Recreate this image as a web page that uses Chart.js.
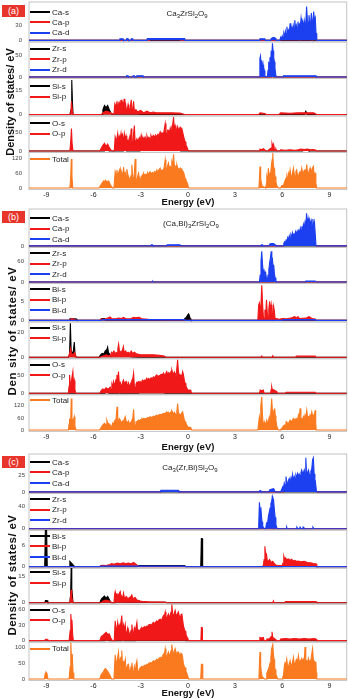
<!DOCTYPE html>
<html lang="en">
<head>
<meta charset="UTF-8">
<title>Partial density of states</title>
<script src="https://cdn.jsdelivr.net/npm/chart.js"></script>
<style>
  body { margin: 0; background: #fff; width: 348px; height: 699px; position: relative; overflow: hidden;
         font-family: "Liberation Sans", Arial, sans-serif; }
  canvas { position: absolute; left: 0; }
  .tag { position: absolute; left: 2px; width: 23px; height: 12px; background: #e8352b; color: #fff;
         font-size: 9px; line-height: 12px; text-align: center; }
  .formula { position: absolute; font-size: 8px; color: #222; transform: translate(-50%, -50%); white-space: nowrap; }
  .formula sub { font-size: 6px; vertical-align: -2px; line-height: 0; }
  .ylab { position: absolute; font-weight: bold; white-space: nowrap; color: #111;
          transform: translate(-50%, -50%) rotate(-90deg); }
  .xlab { position: absolute; left: 188px; font-weight: bold; font-size: 9.5px; color: #111;
          transform: translate(-50%, -50%); white-space: nowrap; }
  .leg { position: absolute; left: 30px; font-size: 8px; color: #222; line-height: 10px; white-space: nowrap; }
  .leg i { display: inline-block; width: 20px; height: 2px; vertical-align: middle; margin-right: 2px; margin-top: -1px; }
</style>
</head>
<body>
<script>
// ---------- data: [energy (eV), DOS] ----------
const xTicks = [-9, -6, -3, 0, 3, 6, 9];

// (a) Ca3ZrSi2O9
const aCaS = [[7.1,0],[7.15,2],[7.2,0],[7.85,0],[7.9,2.5],[7.95,0]];
const aCaP = [[-2.45,0],[-2.4,1.5],[-0.5,1.5],[-0.45,0],[5.85,0],[5.9,1.5],[8.15,1.5],[8.2,0]];
const aCaD = [[-4.35,0],[-4.32,3],[-4.12,3],[-4.1,0],[-3.92,0],[-3.9,3],[-3.8,3],[-3.78,0],[-3.62,0],[-3.6,3],[-3.5,3],[-3.48,0],
  [-2.6,0],[-2.58,3.5],[-0.2,3.5],[-0.18,0],[4.55,0],[4.58,3],[4.9,3],[4.92,0],[5.28,0],[5.3,4],[5.45,6],[5.6,4],[5.62,0],
  [5.85,0],[5.9,6],[5.95,3],[6.0,9],[6.05,5],[6.1,14],[6.15,8],[6.2,18],[6.25,10],[6.3,27],[6.35,12],[6.4,20],[6.45,15],
  [6.5,34],[6.55,18],[6.6,25],[6.65,20],[6.7,30],[6.75,22],[6.8,40],[6.85,24],[6.9,30],[6.95,22],[7.0,37],[7.05,25],
  [7.1,32],[7.15,28],[7.2,44],[7.25,30],[7.3,36],[7.35,27],[7.4,40],[7.45,30],[7.5,35],[7.55,67],[7.6,40],[7.65,32],
  [7.7,50],[7.75,35],[7.8,30],[7.85,54],[7.9,38],[7.95,33],[8.0,57],[8.05,40],[8.1,45],[8.15,14],[8.2,0]];
const aZrS = [[5.35,0],[5.4,1],[5.45,0]];
const aZrP = [[4.6,0],[4.65,2],[4.7,0],[5.35,0],[5.4,3],[5.45,0]];
const aZrD = [[-3.92,0],[-3.9,3],[-3.8,3],[-3.78,0],[-3.5,0],[-3.48,3],[-3.4,3],[-3.38,0],[-3.28,0],[-3.25,3],[-2.85,3],[-2.83,0],
  [4.55,0],[4.58,42],[4.62,48],[4.66,25],[4.7,38],[4.74,18],[4.78,28],[4.82,10],[4.86,15],[4.9,3],[4.95,0],[5.05,0],
  [5.1,15],[5.14,35],[5.18,20],[5.22,45],[5.26,30],[5.3,60],[5.34,50],[5.38,77],[5.42,60],[5.46,45],[5.5,35],[5.54,20],
  [5.58,8],[5.62,0],[6.05,0],[6.08,3],[8.15,3],[8.18,0]];
const aSiS = [[-7.5,0],[-7.42,3],[-7.38,21],[-7.34,8],[-7.3,0],[-5.45,0],[-5.4,3],[-5.3,5.5],[-5.2,4],[-5.1,5.5],[-5.0,3],
  [-4.9,1],[-4.8,0],[-4.5,0.5],[-4.0,0.3],[-3.5,0.5],[-3.0,0],[7.4,0],[7.5,2],[7.6,0]];
const aSiP = [[-7.6,0],[-7.45,0],[-7.4,8],[-7.35,3],[-7.3,0],[-5.5,0],[-5.4,1],[-5.2,2],[-5.0,1.5],[-4.8,0.5],[-4.7,0],
  [-4.65,6],[-4.6,4],[-4.55,7],[-4.5,5],[-4.45,8],[-4.4,4],[-4.35,7],[-4.3,5],[-4.25,9],[-4.2,3],[-4.15,7],[-4.1,5],
  [-4.05,9.5],[-4.0,4],[-3.95,6],[-3.9,2],[-3.85,3],[-3.8,6],[-3.75,3],[-3.7,2],[-3.65,5],[-3.6,9],[-3.55,3],[-3.5,2],
  [-3.45,8],[-3.4,2],[-3.3,3],[-3.2,1.5],[-3.0,2.5],[-2.8,1],[-2.6,2],[-2.4,1],[-2.2,1.5],[-2.0,1],[-1.5,1],[-1.0,1],
  [-0.5,0.8],[-0.2,0],[4.5,0],[4.6,1],[4.9,0.5],[5.0,0],[5.8,0],[5.9,1],[6.5,0.7],[7.0,1],[7.5,1],[8.0,1],[8.2,0]];
const aOS = [[-5.3,0],[-5.25,3],[-5.15,4],[-5.05,2],[-5.0,0],[-4.1,0],[-4.05,3],[-3.95,4],[-3.9,0],[-3.1,0],[-3.05,2],
  [-0.5,2],[-0.45,0],[7.3,0],[7.35,3],[7.65,3],[7.7,0]];
const aOP = [[-7.5,0],[-7.44,30],[-7.4,59],[-7.36,20],[-7.3,0],[-5.6,0],[-5.5,8],[-5.4,15],[-5.3,20],[-5.2,12],[-5.1,18],
  [-5.0,10],[-4.9,3],[-4.8,0],[-4.68,0],[-4.62,37],[-4.56,28],[-4.51,33],[-4.46,46],[-4.41,22],[-4.36,39],[-4.3,32],
  [-4.25,46],[-4.2,24],[-4.15,40],[-4.09,24],[-4.04,46],[-3.98,30],[-3.93,40],[-3.88,24],[-3.82,28],[-3.77,20],[-3.72,35],
  [-3.67,20],[-3.6,59],[-3.56,25],[-3.5,20],[-3.45,45],[-3.4,67],[-3.35,20],[-3.3,25],[-3.24,32],[-3.19,24],[-3.14,30],
  [-3.08,35],[-3.03,24],[-2.97,41],[-2.92,28],[-2.85,35],[-2.8,28],[-2.72,37],[-2.66,30],[-2.6,40],[-2.55,32],[-2.48,36],
  [-2.4,32],[-2.35,41],[-2.28,34],[-2.2,41],[-2.12,36],[-2.05,42],[-1.97,37],[-1.9,44],[-1.84,40],[-1.76,50],[-1.7,42],
  [-1.65,48],[-1.58,46],[-1.55,44],[-1.5,56],[-1.44,72],[-1.39,48],[-1.34,41],[-1.28,55],[-1.23,54],[-1.18,46],[-1.12,60],
  [-1.07,52],[-1.02,63],[-0.96,70],[-0.91,89],[-0.86,58],[-0.81,66],[-0.76,50],[-0.7,56],[-0.65,64],[-0.6,54],[-0.55,58],
  [-0.49,62],[-0.44,54],[-0.38,58],[-0.33,50],[-0.28,40],[-0.22,30],[-0.17,24],[-0.12,16],[-0.07,11],[0.0,4],[0.05,0],
  [4.55,0],[4.58,5],[4.7,4],[4.8,6],[4.9,3],[4.95,0],[5.1,0],[5.15,4],[5.3,8],[5.35,20],[5.4,12],[5.45,18],[5.5,6],
  [5.55,3],[5.6,5],[5.65,0],[5.85,0],[5.9,3],[6.2,2],[6.5,3],[6.8,2],[7.0,3],[7.2,5],[7.4,4],[7.6,5],[7.8,3],[8.0,4],
  [8.15,2],[8.2,0]];
const aTotal = [[-7.5,0],[-7.45,40],[-7.41,116],[-7.37,50],[-7.32,0],[-5.65,0],[-5.55,10],[-5.45,20],[-5.36,28],[-5.3,22],
  [-5.25,31],[-5.15,25],[-5.04,28],[-4.94,15],[-4.85,5],[-4.78,0],[-4.7,0],[-4.62,65],[-4.56,50],[-4.51,72],[-4.46,45],
  [-4.41,60],[-4.3,79],[-4.25,55],[-4.2,60],[-4.14,45],[-4.09,83],[-4.03,50],[-3.98,60],[-3.93,40],[-3.88,75],[-3.82,55],
  [-3.77,45],[-3.72,38],[-3.67,31],[-3.61,50],[-3.56,93],[-3.5,40],[-3.45,25],[-3.4,60],[-3.35,116],[-3.3,40],[-3.24,25],
  [-3.19,45],[-3.14,59],[-3.08,40],[-3.03,25],[-2.97,45],[-2.92,45],[-2.85,55],[-2.82,59],[-2.75,50],[-2.7,55],[-2.61,52],
  [-2.55,62],[-2.5,55],[-2.4,65],[-2.33,56],[-2.25,62],[-2.18,59],[-2.1,66],[-2.03,60],[-1.97,72],[-1.9,64],[-1.83,74],
  [-1.76,79],[-1.7,68],[-1.62,72],[-1.55,70],[-1.5,85],[-1.44,113],[-1.39,80],[-1.34,72],[-1.28,90],[-1.23,100],[-1.18,80],
  [-1.12,86],[-1.07,80],[-1.02,106],[-0.96,95],[-0.91,134],[-0.86,90],[-0.81,75],[-0.75,90],[-0.7,93],[-0.65,80],[-0.6,79],
  [-0.55,72],[-0.49,79],[-0.44,70],[-0.38,75],[-0.33,65],[-0.28,65],[-0.22,50],[-0.17,38],[-0.12,30],[-0.07,25],[0.0,12],
  [0.04,0],[4.52,0],[4.56,50],[4.59,86],[4.63,40],[4.67,20],[4.72,8],[4.8,5],[4.9,2],[4.95,0],[5.0,20],[5.02,45],[5.07,30],
  [5.12,79],[5.17,45],[5.23,60],[5.28,70],[5.33,100],[5.37,115],[5.4,140],[5.44,90],[5.48,79],[5.52,60],[5.55,45],[5.6,25],
  [5.65,10],[5.72,3],[5.76,0],[5.9,0],[5.97,10],[6.08,10],[6.15,25],[6.25,40],[6.29,45],[6.34,30],[6.39,59],[6.45,45],
  [6.5,72],[6.56,50],[6.61,40],[6.66,60],[6.71,79],[6.77,55],[6.82,45],[6.87,65],[6.92,72],[6.97,50],[7.03,45],[7.08,60],
  [7.14,65],[7.19,55],[7.24,79],[7.3,60],[7.35,59],[7.4,70],[7.45,72],[7.5,55],[7.56,93],[7.61,60],[7.67,59],[7.72,70],
  [7.77,79],[7.82,55],[7.88,65],[7.93,80],[7.98,86],[8.03,55],[8.09,59],[8.14,20],[8.19,0]];
const aYMax = [76, 80, 22, 92, 142];
const aYTicks = [[0, 30, 60], [0, 50], [0, 15], [0, 50], [0, 60, 120]];

// (b) (Ca,Bi)3ZrSi2O9
const bCaS = [[7.0,0],[7.05,1],[7.1,0]];
const bCaP = [[6.05,0],[6.1,1],[8.1,1],[8.15,0]];
const bCaD = [[-2.35,0],[-2.32,2],[-2.26,2],[-2.23,0],[-1.35,0],[-1.32,2],[-0.5,2],[-0.47,0],[4.66,0],[4.68,2],[4.74,2],
  [4.76,0],[5.15,0],[5.2,3],[5.3,4],[5.45,4],[5.55,2],[5.6,0],[6.05,0],[6.1,4],[6.15,7],[6.2,5],[6.25,10],[6.3,8],[6.35,14],
  [6.4,10],[6.45,17],[6.5,13],[6.55,19],[6.6,15],[6.65,22],[6.7,16],[6.75,20],[6.8,18],[6.85,24],[6.9,19],[6.95,25],
  [7.0,21],[7.05,26],[7.1,22],[7.15,30],[7.2,24],[7.25,33],[7.3,26],[7.35,36],[7.4,30],[7.45,40],[7.5,33],[7.55,55],
  [7.6,38],[7.65,46],[7.7,35],[7.75,44],[7.8,36],[7.85,42],[7.9,30],[7.95,45],[8.0,33],[8.05,40],[8.1,20],[8.15,0]];
const bZrS = [[5.3,0],[5.33,0.8],[5.36,0]];
const bZrP = [[5.45,0],[5.5,3],[5.55,0]];
const bZrD = [[-2.26,0],[-2.23,2],[-2.2,0],[4.55,0],[4.6,20],[4.65,60],[4.7,89],[4.74,55],[4.78,36],[4.82,20],[4.86,30],
  [4.9,17],[4.95,26],[5.0,10],[5.05,3],[5.1,20],[5.15,36],[5.2,55],[5.25,70],[5.3,89],[5.34,60],[5.38,65],[5.42,45],
  [5.46,50],[5.5,25],[5.55,12],[5.6,3],[5.65,0],[7.45,0],[7.5,3],[8.1,3],[8.15,0]];
const bBiS = [[-7.55,0],[-7.5,0.4],[-7.1,0.4],[-7.05,0],[-5.55,0],[-5.5,0.5],[-5.3,0.5],[-5.25,0],[-0.25,0],[-0.2,0.5],
  [-0.1,0.8],[0.0,1.5],[0.05,1.75],[0.1,1.2],[0.15,0.5],[0.2,0]];
const bBiP = [[-7.5,0],[-7.4,0.5],[-7.2,0.3],[-7.1,0],[-5.6,0],[-5.5,0.4],[-5.3,0.3],[-5.1,0.6],[-4.95,0.9],[-4.85,0.5],
  [-4.6,0.4],[-4.4,0.6],[-4.2,0.5],[-4.1,0.8],[-3.9,0.4],[-3.6,0.5],[-3.45,0.8],[-3.3,0.7],[-3.1,0.8],[-2.9,0.4],[-2.5,0.3],
  [-1.5,0.2],[-0.3,0.2],[-0.1,0],[4.45,0],[4.5,4],[4.55,4.6],[4.6,3],[4.65,4.2],[4.7,9.2],[4.75,4.5],[4.8,1],[4.85,0.3],
  [4.9,2.8],[4.95,1.5],[5.0,5.4],[5.05,2],[5.1,0.5],[5.15,3],[5.2,5],[5.25,2.5],[5.3,4.1],[5.35,1.5],[5.4,0.5],[5.45,3.7],
  [5.5,2.5],[5.55,0.3],[5.6,0.5],[5.8,0.3],[6.0,0.5],[6.3,0.4],[6.6,0.7],[6.8,1],[6.9,0.6],[7.0,1],[7.1,0.5],[7.5,0.6],
  [7.7,1],[7.9,0.5],[8.1,0.4],[8.15,0]];
const bBiD = [[-5.5,0],[-5.45,0.25],[-0.2,0.25],[-0.15,0],[6.0,0],[6.05,0.2],[8.1,0.2],[8.15,0]];
const bSiS = [[-7.6,0],[-7.52,2],[-7.47,27],[-7.42,5],[-7.35,3],[-7.28,5],[-7.22,12],[-7.17,2],[-7.1,0],[-5.65,0],[-5.55,2],
  [-5.45,3],[-5.35,2.5],[-5.25,5],[-5.15,6],[-5.1,8],[-5.05,4],[-4.95,2],[-4.9,0.5],[-4.4,1],[-4.0,1],[-3.6,0.5],[-3.2,0]];
const bSiP = [[-7.6,0],[-7.5,4],[-7.45,7],[-7.4,3],[-7.3,2],[-7.2,4],[-7.1,0],[-5.6,0],[-5.4,1],[-5.2,2],[-5.0,1],[-4.9,2],
  [-4.85,4],[-4.8,3],[-4.7,5],[-4.6,3],[-4.5,4],[-4.45,7],[-4.4,10.5],[-4.35,5],[-4.25,4],[-4.15,6],[-4.1,8.5],[-4.05,4],
  [-3.95,5],[-3.9,3],[-3.8,4],[-3.7,3],[-3.6,5],[-3.5,3],[-3.4,4],[-3.3,3],[-3.2,2.5],[-3.0,2],[-2.6,2],[-2.2,2],[-1.8,1.5],
  [-1.5,1],[-1.4,0],[4.65,0],[4.7,1],[4.75,0],[5.35,0],[5.4,1.2],[5.45,0],[6.85,0],[6.9,1],[8.1,1],[8.15,0]];
const bOS = [[-5.3,0],[-5.25,2],[-5.1,3],[-5.0,0],[-4.5,0],[-4.45,1],[-4.3,1],[-4.25,0],[-3.15,0],[-3.1,1.5],[-1.5,1.5],[-1.45,0]];
const bOP = [[-7.6,0],[-7.55,20],[-7.52,50],[-7.48,30],[-7.44,18],[-7.38,40],[-7.31,59],[-7.27,25],[-7.22,35],[-7.18,10],
  [-7.12,0],[-5.6,0],[-5.5,8],[-5.4,12],[-5.3,10],[-5.2,15],[-5.1,12],[-5.0,14],[-4.94,17],[-4.88,10],[-4.83,25],[-4.78,18],
  [-4.73,32],[-4.67,22],[-4.62,28],[-4.56,38],[-4.51,50],[-4.46,30],[-4.41,59],[-4.36,28],[-4.3,30],[-4.25,22],[-4.2,20],
  [-4.15,30],[-4.09,36],[-4.04,25],[-3.98,30],[-3.93,32],[-3.88,25],[-3.82,20],[-3.77,28],[-3.72,20],[-3.67,20],[-3.61,30],
  [-3.56,36],[-3.5,40],[-3.45,55],[-3.4,20],[-3.35,15],[-3.3,25],[-3.24,30],[-3.19,28],[-3.14,32],[-3.08,30],[-3.03,32],
  [-2.97,28],[-2.92,34],[-2.87,36],[-2.82,32],[-2.75,36],[-2.7,34],[-2.61,41],[-2.55,36],[-2.5,40],[-2.45,38],[-2.4,40],
  [-2.33,42],[-2.25,40],[-2.18,45],[-2.1,42],[-2.03,48],[-1.97,50],[-1.9,44],[-1.83,48],[-1.76,48],[-1.7,52],[-1.62,50],
  [-1.55,55],[-1.5,50],[-1.44,52],[-1.39,56],[-1.34,59],[-1.28,50],[-1.23,56],[-1.18,55],[-1.12,52],[-1.07,60],[-1.02,64],
  [-0.96,55],[-0.91,50],[-0.86,58],[-0.81,54],[-0.75,45],[-0.7,45],[-0.65,91],[-0.6,60],[-0.55,50],[-0.49,50],[-0.44,45],
  [-0.38,50],[-0.33,59],[-0.28,50],[-0.22,35],[-0.17,27],[-0.12,20],[-0.07,14],[0.0,10],[0.04,9],[0.1,8],[0.15,9],[0.2,4],
  [0.25,0],[4.55,0],[4.6,9],[4.7,7],[4.8,9],[4.85,0],[5.25,0],[5.3,10],[5.33,18],[5.38,8],[5.45,10],[5.55,7],[5.65,5],
  [5.7,0],[6.2,0],[6.25,3],[8.1,3],[8.15,0]];
const bTotal = [[-7.6,0],[-7.55,30],[-7.52,57],[-7.48,40],[-7.44,80],[-7.41,156],[-7.37,60],[-7.31,40],[-7.22,66],[-7.18,20],
  [-7.12,0],[-5.6,0],[-5.5,15],[-5.4,25],[-5.3,33],[-5.2,25],[-5.15,49],[-5.1,35],[-5.0,30],[-4.94,25],[-4.88,15],[-4.83,20],
  [-4.78,33],[-4.73,25],[-4.67,45],[-4.62,40],[-4.56,60],[-4.5,115],[-4.46,50],[-4.41,40],[-4.36,57],[-4.3,50],[-4.25,40],
  [-4.2,35],[-4.15,45],[-4.09,40],[-4.04,55],[-3.98,66],[-3.93,45],[-3.88,40],[-3.82,35],[-3.77,45],[-3.72,30],[-3.67,33],
  [-3.61,40],[-3.56,49],[-3.5,60],[-3.45,102],[-3.4,25],[-3.35,25],[-3.3,40],[-3.24,40],[-3.19,45],[-3.14,49],[-3.08,45],
  [-3.03,49],[-2.97,52],[-2.92,57],[-2.85,50],[-2.82,57],[-2.75,55],[-2.7,57],[-2.61,57],[-2.55,62],[-2.5,60],[-2.4,66],
  [-2.33,62],[-2.25,65],[-2.18,69],[-2.1,66],[-2.03,72],[-1.97,74],[-1.9,70],[-1.83,76],[-1.76,78],[-1.7,74],[-1.62,80],
  [-1.55,82],[-1.5,78],[-1.44,85],[-1.39,80],[-1.34,90],[-1.28,80],[-1.23,88],[-1.18,82],[-1.12,86],[-1.07,90],[-1.02,95],
  [-0.96,85],[-0.91,80],[-0.86,88],[-0.81,82],[-0.75,75],[-0.7,90],[-0.65,131],[-0.6,85],[-0.55,80],[-0.49,74],[-0.44,78],
  [-0.38,85],[-0.33,90],[-0.28,70],[-0.22,50],[-0.17,41],[-0.12,30],[-0.07,25],[0.0,15],[0.04,13],[0.1,12],[0.15,14],
  [0.2,8],[0.25,0],[4.45,0],[4.5,30],[4.55,66],[4.6,40],[4.64,120],[4.7,164],[4.74,80],[4.78,33],[4.82,25],[4.86,40],
  [4.91,25],[4.96,35],[5.02,49],[5.07,30],[5.12,40],[5.18,66],[5.23,50],[5.27,80],[5.33,156],[5.38,90],[5.44,82],[5.48,100],
  [5.52,107],[5.56,70],[5.6,49],[5.65,20],[5.7,8],[5.76,0],[5.86,0],[5.92,5],[5.97,8],[6.03,15],[6.08,20],[6.13,25],
  [6.18,25],[6.24,40],[6.29,41],[6.34,30],[6.39,33],[6.45,40],[6.5,49],[6.56,45],[6.61,40],[6.66,50],[6.71,57],[6.77,45],
  [6.82,55],[6.87,50],[6.92,57],[6.97,45],[7.03,74],[7.08,60],[7.14,107],[7.19,55],[7.24,57],[7.3,50],[7.35,66],[7.4,55],
  [7.45,74],[7.5,60],[7.56,98],[7.61,65],[7.67,66],[7.72,60],[7.77,74],[7.82,65],[7.88,90],[7.93,70],[7.98,74],[8.03,60],
  [8.09,98],[8.13,40],[8.16,0]];
const bYMax = [62, 100, 9.7, 28, 94, 175];
const bYTicks = [[0, 50], [0, 60], [0, 5], [0, 20], [0, 50], [0, 60, 120]];

// (c) Ca3(Zr,Bi)Si2O9
const cCaS = [[7.3,0],[7.35,1],[7.4,0]];
const cCaP = [[-1.75,0],[-1.72,1],[-0.6,1],[-0.57,0],[6.1,0],[6.15,1],[8.15,1],[8.2,0]];
const cCaD = [[-1.75,0],[-1.72,2.5],[-0.6,2.5],[-0.57,0],[4.55,0],[4.58,2],[4.62,2],[4.65,0],[5.15,0],[5.2,3],[5.3,4],
  [5.45,5],[5.5,3],[5.55,0],[5.9,0],[5.97,4],[6.03,8],[6.08,6],[6.13,14],[6.18,10],[6.24,24],[6.29,14],[6.34,12],[6.39,18],
  [6.45,21],[6.5,14],[6.56,22],[6.61,16],[6.66,27],[6.71,18],[6.77,24],[6.82,20],[6.87,26],[6.92,22],[6.97,29],[7.03,25],
  [7.08,28],[7.14,24],[7.19,30],[7.24,34],[7.3,28],[7.35,30],[7.4,34],[7.45,26],[7.5,53],[7.55,28],[7.6,30],[7.67,34],
  [7.72,28],[7.77,26],[7.82,32],[7.88,36],[7.93,50],[7.98,53],[8.03,28],[8.08,20],[8.12,14],[8.18,0]];
const cZrS = [[5.35,0],[5.38,0.8],[5.41,0]];
const cZrP = [[5.35,0],[5.4,1.5],[5.45,0]];
const cZrD = [[4.5,0],[4.55,47],[4.6,30],[4.64,38],[4.68,22],[4.72,12],[4.76,6],[4.8,2],[4.88,0],[4.95,0],[5.0,10],[5.06,8],
  [5.12,22],[5.18,30],[5.23,37],[5.28,45],[5.33,49],[5.37,58],[5.4,55],[5.45,52],[5.5,34],[5.55,20],[5.6,7],[5.65,2],[5.72,0],
  [6.25,0],[6.28,3],[6.32,0],[6.9,0],[6.93,3],[7.0,0],[7.1,0],[7.14,3],[7.2,0],[7.3,0],[7.33,3],[7.38,0],[7.9,0],[7.95,3],[8.02,0]];
const cBiS = [[-9.1,0],[-9.06,10.4],[-8.98,10.4],[-8.94,0],[-7.55,0],[-7.5,1.5],[-7.4,1],[-7.3,0.5],[-7.25,0],[-3.2,0],
  [-3.15,0.3],[-0.2,0.3],[-0.15,0],[0.82,0],[0.86,8],[0.9,8],[0.94,0],[6.0,0],[6.05,0.4],[8.1,0.4],[8.15,0]];
const cBiP = [[-5.6,0],[-5.55,0.3],[-5.4,0.4],[-5.2,0.3],[-4.95,0.6],[-4.85,0.9],[-4.7,0.7],[-4.5,1],[-4.3,0.8],[-4.1,1.1],
  [-3.95,0.8],[-3.8,1],[-3.6,0.8],[-3.45,1.2],[-3.3,0.7],[-3.2,0.3],[-3.1,0],[4.75,0],[4.8,0.5],[4.85,2],[4.9,5.8],[4.95,3],
  [5.0,3.5],[5.05,1.8],[5.12,1.5],[5.2,2],[5.3,1.2],[5.4,1.5],[5.5,0.8],[5.6,0.5],[5.7,0.3],[6.0,0.3],[6.05,1],[6.1,3],
  [6.15,2.2],[6.2,2.5],[6.3,2],[6.4,2.2],[6.5,1.8],[6.6,2.1],[6.7,1.6],[6.8,1.8],[6.9,1.5],[7.0,1.6],[7.2,1.4],[7.4,1.5],
  [7.6,1.2],[7.8,1.1],[8.0,0.9],[8.15,0.8],[8.2,0]];
const cBiD = [[-5.6,0],[-5.55,0.2],[-0.2,0.2],[-0.15,0]];
const cSiS = [[-9.1,0],[-9.05,1.2],[-8.95,1.2],[-8.9,0],[-7.5,0],[-7.45,5],[-7.42,19.5],[-7.38,8],[-7.3,0],[-5.6,0],[-5.5,2],
  [-5.4,3],[-5.3,3.8],[-5.2,2.5],[-5.1,3.5],[-5.0,2],[-4.9,0],[-4.6,0],[-4.55,1],[-4.3,1],[-4.0,0.6],[-3.5,0.3],[-1.4,0.3],[-1.35,0]];
const cSiP = [[-7.5,0],[-7.45,4],[-7.42,7.3],[-7.38,3],[-7.3,0],[-5.5,0],[-5.4,1],[-5.2,1.5],[-5.0,1],[-4.8,0],[-4.7,0],
  [-4.65,5],[-4.62,6.3],[-4.56,4],[-4.51,5.4],[-4.46,3],[-4.41,4.5],[-4.3,6.3],[-4.25,3],[-4.2,3.5],[-4.15,2.5],[-4.09,5.4],
  [-4.04,3],[-3.98,2.5],[-3.93,3.5],[-3.88,3],[-3.82,2.5],[-3.77,2.5],[-3.7,3],[-3.62,3.5],[-3.56,4.4],[-3.5,2.5],[-3.45,2.5],
  [-3.35,3],[-3.24,1.5],[-3.1,1.2],[-3.03,1],[-2.9,0.8],[-2.5,0.5],[-1.5,0.4],[-1.3,0],[5.4,0],[5.44,1],[5.48,0],[6.15,0],
  [6.2,0.7],[8.15,0.7],[8.2,0]];
const cOS = [[-5.3,0],[-5.25,1.5],[-5.1,2],[-5.0,0],[-4.25,0],[-4.2,3],[-4.1,2],[-4.05,0],[-3.3,0],[-3.25,1],[-0.2,1],[-0.15,0]];
const cOP = [[-9.1,0],[-9.05,2.7],[-8.95,2.7],[-8.9,0],[-7.55,0],[-7.48,20],[-7.44,51],[-7.4,30],[-7.37,40],[-7.32,10],
  [-7.28,0],[-5.6,0],[-5.5,8],[-5.4,10],[-5.3,13],[-5.2,16],[-5.1,12],[-5.0,13],[-4.9,5],[-4.8,0],[-4.68,0],[-4.62,38],
  [-4.56,15],[-4.51,25],[-4.46,35],[-4.41,20],[-4.36,30],[-4.3,25],[-4.2,48],[-4.15,18],[-4.09,30],[-4.04,20],[-3.98,31],
  [-3.93,12],[-3.88,15],[-3.82,25],[-3.77,20],[-3.72,12],[-3.67,11],[-3.61,20],[-3.56,31],[-3.5,12],[-3.45,15],[-3.4,25],
  [-3.35,22],[-3.3,25],[-3.24,35],[-3.19,15],[-3.14,20],[-3.08,18],[-3.03,21],[-2.97,24],[-2.92,25],[-2.85,23],[-2.82,25],
  [-2.75,27],[-2.7,25],[-2.61,28],[-2.55,26],[-2.5,30],[-2.4,31],[-2.33,29],[-2.25,33],[-2.18,35],[-2.1,32],[-2.03,36],
  [-1.97,38],[-1.9,35],[-1.83,40],[-1.76,41],[-1.7,38],[-1.62,43],[-1.55,48],[-1.5,45],[-1.44,55],[-1.39,45],[-1.34,43],
  [-1.28,48],[-1.23,51],[-1.18,45],[-1.12,48],[-1.07,55],[-1.02,69],[-0.96,50],[-0.91,48],[-0.86,52],[-0.81,58],[-0.75,50],
  [-0.7,48],[-0.65,52],[-0.6,55],[-0.55,48],[-0.49,45],[-0.44,50],[-0.38,51],[-0.33,40],[-0.28,28],[-0.22,22],[-0.17,18],
  [-0.12,12],[-0.07,8],[0.0,4],[0.04,0],[0.83,0],[0.86,25],[0.9,25],[0.93,0],[4.55,0],[4.58,6],[4.7,5],[4.8,6],[4.85,0],
  [4.98,0],[5.02,3],[5.12,3],[5.2,4],[5.3,8],[5.35,17],[5.4,6],[5.45,5],[5.55,3],[5.6,0],[5.85,0],[5.9,3],[6.2,4],[6.5,3],
  [6.8,4],[7.1,3],[7.4,4],[7.7,3],[8.0,4],[8.15,3],[8.2,0]];
const cTotal = [[-9.12,0],[-9.07,18],[-9.02,22],[-8.96,18],[-8.9,0],[-7.55,0],[-7.48,40],[-7.44,117],[-7.4,60],[-7.35,80],
  [-7.3,20],[-7.25,0],[-5.6,0],[-5.5,15],[-5.4,20],[-5.36,24],[-5.3,30],[-5.25,33],[-5.15,28],[-5.04,20],[-4.94,10],[-4.85,0],
  [-4.7,0],[-4.62,77],[-4.56,50],[-4.51,55],[-4.46,70],[-4.41,86],[-4.36,50],[-4.3,63],[-4.25,70],[-4.2,91],[-4.15,40],
  [-4.09,55],[-4.03,50],[-3.98,63],[-3.93,30],[-3.88,35],[-3.82,45],[-3.77,47],[-3.72,25],[-3.67,19],[-3.61,40],[-3.56,52],
  [-3.5,25],[-3.45,15],[-3.4,40],[-3.35,30],[-3.3,45],[-3.24,58],[-3.19,30],[-3.14,15],[-3.08,30],[-3.03,36],[-2.97,38],
  [-2.92,40],[-2.85,38],[-2.82,41],[-2.75,44],[-2.7,42],[-2.61,47],[-2.55,45],[-2.5,50],[-2.4,52],[-2.33,50],[-2.25,55],
  [-2.18,58],[-2.1,55],[-2.03,60],[-1.97,63],[-1.9,60],[-1.83,66],[-1.76,69],[-1.7,65],[-1.62,72],[-1.55,80],[-1.5,75],
  [-1.44,97],[-1.39,75],[-1.34,70],[-1.28,80],[-1.23,86],[-1.18,75],[-1.12,80],[-1.07,90],[-1.02,110],[-0.96,85],[-0.91,80],
  [-0.86,90],[-0.81,97],[-0.75,85],[-0.7,80],[-0.65,86],[-0.6,86],[-0.55,80],[-0.49,78],[-0.44,82],[-0.38,80],[-0.33,70],
  [-0.28,47],[-0.22,40],[-0.17,36],[-0.12,25],[-0.07,19],[0.0,8],[0.04,0],[0.82,0],[0.86,47],[0.91,47],[0.95,0],[4.52,0],
  [4.56,60],[4.59,86],[4.63,45],[4.67,20],[4.72,8],[4.8,3],[4.9,0],[4.98,0],[5.02,19],[5.07,25],[5.12,30],[5.18,40],[5.23,52],
  [5.28,70],[5.33,97],[5.4,110],[5.44,80],[5.48,63],[5.52,40],[5.55,30],[5.6,15],[5.65,8],[5.72,0],[6.0,0],[6.04,8],[6.08,8],
  [6.13,40],[6.18,52],[6.24,45],[6.29,63],[6.34,40],[6.39,38],[6.45,50],[6.5,58],[6.56,40],[6.61,47],[6.66,55],[6.71,69],
  [6.77,45],[6.82,52],[6.87,60],[6.92,63],[6.97,50],[7.03,74],[7.08,55],[7.14,58],[7.19,60],[7.24,66],[7.3,55],[7.35,63],
  [7.4,55],[7.45,102],[7.5,60],[7.56,58],[7.61,55],[7.67,66],[7.72,55],[7.77,58],[7.82,60],[7.88,80],[7.93,97],[7.98,60],
  [8.03,58],[8.09,52],[8.14,55],[8.17,20],[8.2,0]];
const cYMax = [59, 63, 10.4, 19.5, 70, 118];
const cYTicks = [[0, 25, 50], [0, 40], [0, 6], [0, 15], [0, 30, 60], [0, 50, 100]];

// ---------- layout ----------
const FONT = '"Liberation Sans", Arial, sans-serif';
const ORB_COLORS = ['#000000', '#f01818', '#1c3ff0'];
const TOTAL_COLOR = '#fa7a20';

const panels = [
  { tag: '(a)', tagTop: 5, formula: 'Ca<sub>3</sub>ZrSi<sub>2</sub>O<sub>9</sub>', fx: 187, fy: 13,
    ylab: 'Density of states/ eV', ylabX: 10, ylabY: 102, ylabSize: 11, ylabSpacing: 0, xlabY: 201, tickPad: 7,
    edges: [2, 41.9, 78.4, 115.9, 152.4, 189.4], legTop: [10.5, 7.5, 8.6, 8, 7.6],
    names: ['Ca', 'Zr', 'Si', 'O', 'Total'], series: [[aCaS, aCaP, aCaD], [aZrS, aZrP, aZrD], [aSiS, aSiP], [aOS, aOP], [aTotal]],
    yMax: aYMax, yTicks: aYTicks },
  { tag: '(b)', tagTop: 211, formula: '(Ca,Bi)<sub>3</sub>ZrSi<sub>2</sub>O<sub>9</sub>', fx: 191, fy: 223,
    ylab: 'Den sity of states/ eV', ylabX: 12, ylabY: 331, ylabSize: 11.5, ylabSpacing: 0.6, xlabY: 446, tickPad: 5,
    edges: [209, 247.4, 283.4, 321.9, 358.7, 394.7, 431.4], legTop: [10, 6.5, 6.5, 6.5, 6.5, 6],
    names: ['Ca', 'Zr', 'Bi', 'Si', 'O', 'Total'],
    series: [[bCaS, bCaP, bCaD], [bZrS, bZrP, bZrD], [bBiS, bBiP, bBiD], [bSiS, bSiP], [bOS, bOP], [bTotal]],
    yMax: bYMax, yTicks: bYTicks },
  { tag: '(c)', tagTop: 456, formula: 'Ca<sub>3</sub>(Zr,Bi)Si<sub>2</sub>O<sub>9</sub>', fx: 190, fy: 467,
    ylab: 'Density of states/ eV', ylabX: 12, ylabY: 575, ylabSize: 11.5, ylabSpacing: 0.4, xlabY: 692, tickPad: 4,
    edges: [454, 493.4, 530.1, 568.1, 604.1, 642.1, 680.4], legTop: [8.7, 6.6, 6.6, 5, 6.6, 7.2],
    names: ['Ca', 'Zr', 'Bi', 'Si', 'O', 'Total'],
    series: [[cCaS, cCaP, cCaD], [cZrS, cZrP, cZrD], [cBiS, cBiP, cBiD], [cSiS, cSiP], [cOS, cOP], [cTotal]],
    yMax: cYMax, yTicks: cYTicks }
];

const framePlugin = {
  id: 'frame',
  beforeDatasetsDraw(chart) {
    const { ctx, chartArea: a } = chart;
    ctx.save();
    ctx.strokeStyle = '#c4c4c4';
    ctx.lineWidth = 1;
    ctx.strokeRect(a.left, a.top, a.right - a.left, a.bottom - a.top);
    ctx.restore();
  }
};

function toPoints(pairs) {
  const pts = [[-10.3, 0], ...pairs, [10.3, 0]].sort((p, q) => p[0] - q[0]);
  return pts.map(p => ({ x: p[0], y: p[1] }));
}

function addDiv(cls, html, style) {
  const d = document.createElement('div');
  d.className = cls;
  d.innerHTML = html;
  Object.assign(d.style, style);
  document.body.appendChild(d);
  return d;
}

function makeSubplot(p, r) {
  const top = p.edges[r], bottom = p.edges[r + 1];
  const isLast = r === p.names.length - 1;
  const axisH = isLast ? 12 : 0;
  const pad = 4;
  const cTop = Math.floor(top) - pad;
  const cBottom = Math.ceil(bottom) + axisH + (isLast ? 1 : pad);
  const cv = document.createElement('canvas');
  cv.width = 348;
  cv.height = cBottom - cTop;
  cv.style.top = cTop + 'px';
  document.body.appendChild(cv);

  const yMax = p.yMax[r];
  const series = p.series[r];
  const isTotal = p.names[r] === 'Total';
  const datasets = series.map((s, i) => {
    const color = isTotal ? TOTAL_COLOR : ORB_COLORS[i];
    return {
      label: isTotal ? 'Total' : p.names[r] + '-' + 'spd'[i],
      data: toPoints(s),
      borderColor: color,
      backgroundColor: color,
      borderWidth: 1.1,
      pointRadius: 0,
      tension: 0,
      fill: 'origin',
      order: series.length - 1 - i
    };
  });

  new Chart(cv, {
    type: 'line',
    data: { datasets },
    options: {
      responsive: false,
      animation: false,
      devicePixelRatio: 1,
      events: [],
      layout: { padding: { top: top - cTop, bottom: cBottom - bottom - axisH, left: 0, right: 1.3 } },
      plugins: { legend: { display: false }, tooltip: { enabled: false } },
      scales: {
        x: {
          type: 'linear', min: -10.1, max: 10.1, display: isLast,
          grid: { display: false, drawTicks: false }, border: { display: false },
          ticks: { font: { size: 7, family: FONT }, color: '#222', padding: 1, maxRotation: 0, autoSkip: false },
          afterBuildTicks: s => { s.ticks = xTicks.map(v => ({ value: v })); },
          afterFit: s => { s.height = axisH; s.paddingLeft = 0; s.paddingRight = 0; }
        },
        y: {
          min: -0.04 * yMax, max: yMax,
          grid: { display: false, drawTicks: false }, border: { display: false },
          ticks: { font: { size: 6, family: FONT }, color: '#444', padding: p.tickPad },
          afterBuildTicks: s => { s.ticks = p.yTicks[r].map(v => ({ value: v })); },
          afterFit: s => { s.width = 29; s.paddingTop = 0; s.paddingBottom = 0; }
        }
      }
    },
    plugins: [framePlugin]
  });

  datasets.forEach((d, i) => {
    addDiv('leg', '<i style="background:' + d.borderColor + '"></i>' + d.label,
      { top: (top + p.legTop[r] + i * 10.4 - 5) + 'px' });
  });
}

panels.forEach(p => {
  p.names.forEach((_, r) => makeSubplot(p, r));
  addDiv('tag', p.tag, { top: p.tagTop + 'px' });
  addDiv('formula', p.formula, { left: p.fx + 'px', top: p.fy + 'px' });
  addDiv('ylab', p.ylab, { left: p.ylabX + 'px', top: p.ylabY + 'px', fontSize: p.ylabSize + 'px', letterSpacing: p.ylabSpacing + 'px' });
  addDiv('xlab', 'Energy (eV)', { top: p.xlabY + 'px' });
});
</script>
</body>
</html>
